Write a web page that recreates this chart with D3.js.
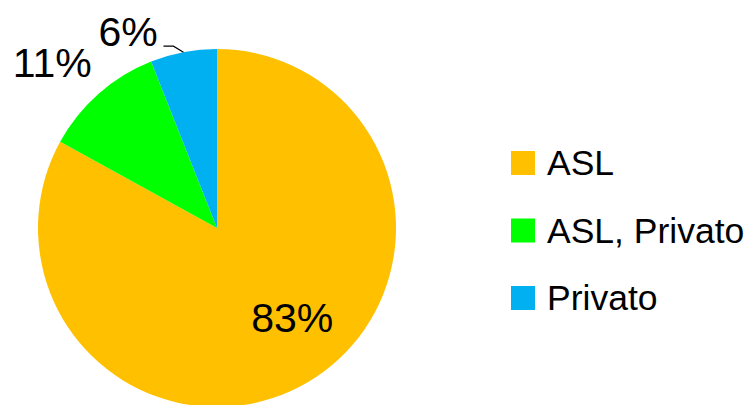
<!DOCTYPE html>
<html><head><meta charset="utf-8">
<script src="https://cdn.jsdelivr.net/npm/d3@7"></script>
<style>body{margin:0;background:#fff}svg{display:block}text{font-family:"Liberation Sans",Arial,sans-serif}</style>
</head><body>
<svg id="c" width="751" height="405"></svg>
<script>
const categories = ["ASL", "ASL, Privato", "Privato"];
const values = [83, 11, 6];
const colors = ["#FFC000", "#00FF00", "#00B0F0"];
const pctLabels = ["83%", "11%", "6%"];

const svg = d3.select("#c");
const cx = 217, cy = 228, R = 179;
const g = svg.append("g").attr("transform", `translate(${cx},${cy})`);
const pie = d3.pie().sort(null).value(d => d.v);
const data = pie(categories.map((c, i) => ({c, v: values[i], col: colors[i], lab: pctLabels[i]})));
const arc = d3.arc().innerRadius(0).outerRadius(R);
g.selectAll("path.s").data(data).join("path").attr("class","s")
  .attr("d", arc).attr("fill", d => d.data.col);

// label placement (polar radius and angle in degrees from 12 o'clock)
const labelPos = [{r: 117, a: 140}, {r: 233, a: 315}, {r: 215, a: 335.6}];
const polar = (r, aDeg) => { const a = aDeg * Math.PI / 180; return [r * Math.sin(a), -r * Math.cos(a)]; };
data.forEach((d, i) => {
  const [x, y] = polar(labelPos[i].r, labelPos[i].a);
  g.append("text").attr("x", x).attr("y", y).attr("text-anchor", "middle")
    .attr("dominant-baseline", "central").attr("font-size", 41).attr("fill", "#000")
    .text(d.data.lab);
});
// leader line for small slice
const d3s = data[2];
const mid = (d3s.startAngle + d3s.endAngle) / 2 * 180 / Math.PI;
const p0 = polar(R, mid);
g.append("path").attr("fill", "none").attr("stroke", "#000").attr("stroke-width", 1.2)
  .attr("d", `M${p0[0]},${p0[1]} L${p0[0] - 10},${p0[1] - 6} L${p0[0] - 20},${p0[1] - 6}`);

// legend
const lg = svg.append("g").attr("transform", "translate(511,151)");
const item = lg.selectAll("g").data(categories).join("g")
  .attr("transform", (d, i) => `translate(0,${i * 67.5})`);
item.append("rect").attr("width", 24).attr("height", 24).attr("fill", (d, i) => colors[i]);
item.append("text").attr("x", 36).attr("y", 24).attr("font-size", 35.5).attr("fill", "#000").text(d => d);
</script>
</body></html>
